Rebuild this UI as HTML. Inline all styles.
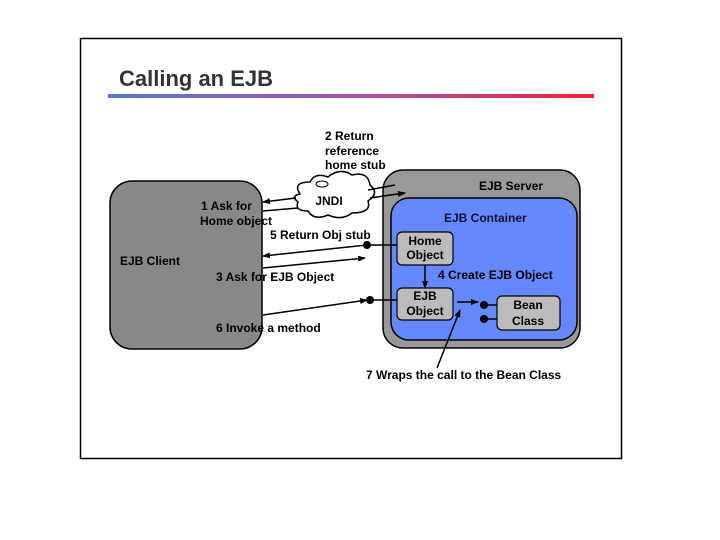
<!DOCTYPE html>
<html><head><style>body{margin:0;background:#fff}svg{display:block}text{font-family:"Liberation Sans",sans-serif;font-weight:bold}</style></head><body>
<svg width="720" height="540" viewBox="0 0 720 540">
<defs>
<linearGradient id="g" x1="0" x2="1"><stop offset="0" stop-color="#5577dd"/><stop offset="0.5" stop-color="#aa55aa"/><stop offset="1" stop-color="#ee2233"/></linearGradient>
<marker id="a" markerWidth="8" markerHeight="8" refX="7" refY="4" orient="auto" markerUnits="userSpaceOnUse"><path d="M0,1 L8,4 L0,7 z" fill="#000"/></marker>
</defs>
<rect x="80.5" y="38.5" width="541" height="420" fill="#fff" stroke="#000" stroke-width="1.5"/>
<text x="119" y="86" font-size="22" fill="#333">Calling an EJB</text>
<rect x="108" y="94" width="486" height="4" fill="url(#g)"/>
<rect x="110" y="181" width="152" height="168" rx="22" fill="#888" stroke="#000" stroke-width="1.5"/>
<text x="120" y="265" font-size="12" fill="#000">EJB Client</text>
<rect x="383" y="170" width="197" height="178" rx="20" fill="#999" stroke="#000" stroke-width="1.5"/>
<text x="479" y="190" font-size="12">EJB Server</text>
<rect x="391" y="198" width="186" height="142" rx="18" fill="#6688ff" stroke="#000" stroke-width="1.5"/>
<text x="444" y="222" font-size="12" fill="#113">EJB Container</text>
<rect x="397" y="232" width="56" height="33" rx="5" fill="#bbb" stroke="#000" stroke-width="1.2"/>
<text x="425" y="245" font-size="12" text-anchor="middle">Home</text><text x="425" y="259" font-size="12" text-anchor="middle">Object</text>
<rect x="397" y="288" width="56" height="32" rx="5" fill="#bbb" stroke="#000" stroke-width="1.2"/>
<text x="425" y="300" font-size="12" text-anchor="middle">EJB</text><text x="425" y="315" font-size="12" text-anchor="middle">Object</text>
<rect x="497" y="296" width="63" height="34" rx="5" fill="#bbb" stroke="#000" stroke-width="1.2"/>
<text x="528" y="309" font-size="12" text-anchor="middle">Bean</text><text x="528" y="325" font-size="12" text-anchor="middle">Class</text>
<text x="438" y="279" font-size="12">4 Create EJB Object</text>
<g transform="translate(0,4)">
<path d="M300,190 q-8,-12 10,-12 q5,-10 18,-5 q12,-10 24,-2 q16,-4 18,10 q10,8 -2,16 q4,12 -16,12 q-10,8 -24,2 q-14,6 -20,-4 q-14,0 -10,-9 q-8,-6 2,-8 z" fill="#fff" stroke="#000" stroke-width="1.5"/>
<ellipse cx="322" cy="180" rx="6" ry="3" fill="none" stroke="#000"/>
<text x="329" y="201" font-size="12" text-anchor="middle">JNDI</text>
</g>
<text x="325" y="140" font-size="12">2 Return</text>
<text x="325" y="155" font-size="12">reference</text>
<text x="325" y="169" font-size="12">home stub</text>
<g stroke="#000" stroke-width="1.5" fill="none">
<line x1="296" y1="198" x2="263" y2="202" marker-end="url(#a)"/>
<line x1="263" y1="211" x2="298" y2="208"/>
<line x1="368" y1="190" x2="395" y2="185"/>
<line x1="370" y1="198" x2="405" y2="193" marker-end="url(#a)"/>
<line x1="367" y1="245" x2="397" y2="245"/>
<line x1="367" y1="245" x2="263" y2="256" marker-end="url(#a)"/>
<line x1="263" y1="268" x2="365" y2="258" marker-end="url(#a)"/>
<line x1="263" y1="315" x2="367" y2="300" marker-end="url(#a)"/>
<line x1="370" y1="300" x2="397" y2="300"/>
<line x1="425" y1="265" x2="425" y2="288" marker-end="url(#a)"/>
<line x1="457" y1="302" x2="478" y2="302" marker-end="url(#a)"/>
<line x1="484" y1="305" x2="497" y2="305"/>
<line x1="484" y1="319" x2="497" y2="319"/>
<line x1="437" y1="368" x2="460" y2="310" marker-end="url(#a)"/>
</g>
<circle cx="367" cy="245" r="4"/><circle cx="370" cy="300" r="4"/>
<circle cx="484" cy="305" r="4"/><circle cx="484" cy="319" r="4"/>
<text x="201" y="210" font-size="12">1 Ask for</text>
<text x="200" y="225" font-size="12">Home object</text>
<text x="270" y="239" font-size="12">5 Return Obj stub</text>
<text x="216" y="281" font-size="12">3 Ask for EJB Object</text>
<text x="216" y="332" font-size="12">6 Invoke a method</text>
<text x="366" y="379" font-size="12">7 Wraps the call to the Bean Class</text>
</svg>
</body></html>
